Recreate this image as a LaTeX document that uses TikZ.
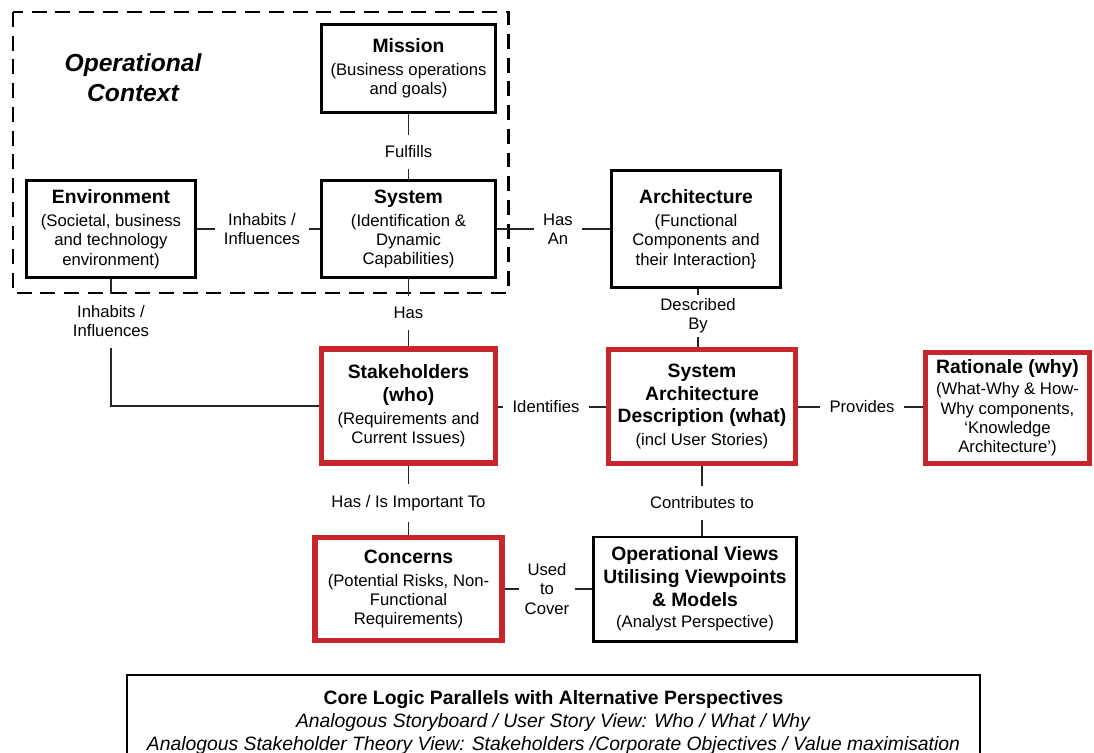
\documentclass[tikz,border=0pt]{standalone}
\usepackage{fontspec}
\setmainfont{Liberation Sans}

\definecolor{bordred}{RGB}{200,38,45}
\newcommand{\btitle}[1]{{\fontsize{11}{13}\selectfont\bfseries #1}}

\begin{document}
\begin{tikzpicture}[x=0.2mm, y=-0.2mm,
    box/.style={draw, line width=1.7pt, align=center, inner sep=0pt, font=\fontsize{9.5}{11}\selectfont},
    redbox/.style={box, draw=bordred, line width=3.2pt},
    lbl/.style={align=center, inner xsep=5pt, inner ysep=6pt, font=\fontsize{9.5}{11}\selectfont},
    link/.style={line width=0.6pt, black!85}]
    \useasboundingbox (0,0) rectangle (1094,753);

    % Operational context frame
    \draw[line width=1.7pt, dash pattern=on 8.5pt off 5pt] (13,12) rectangle (508,293);
    \node[align=center, font=\fontsize{14}{17}\selectfont\bfseries\itshape] (opctx) at (133,78) {Operational\\Context};

    % Boxes
    \node[box, minimum width=34.8mm, minimum height=17.6mm] (mission) at (408.5,68.5) {\btitle{Mission}\\[2pt](Business operations\\and goals)};
    \node[box, minimum width=34.8mm, minimum height=19.4mm] (system) at (408.5,229) {\btitle{System}\\[2pt](Identification \&\\Dynamic\\Capabilities)};
    \node[box, minimum width=33.8mm, minimum height=19.4mm] (env) at (111,229) {\btitle{Environment}\\[2pt](Societal, business\\and technology\\environment)};
    \node[box, minimum width=33.8mm, minimum height=23.4mm] (arch) at (696,229) {\btitle{Architecture}\\[2pt](Functional\\Components and\\their Interaction\}};
    \node[redbox, minimum width=34.8mm, minimum height=22.8mm] (stake) at (408.5,406) {\btitle{Stakeholders}\\[2pt]\btitle{(who)}\\[2pt](Requirements and\\Current Issues)};
    \node[redbox, minimum width=37.4mm, minimum height=22.8mm] (sad) at (702,406.5) {\btitle{System}\\[2pt]\btitle{Architecture}\\[2pt]\btitle{Description (what)}\\[2pt](incl User Stories)};
    \node[redbox, minimum width=32.8mm, minimum height=22.2mm] (rat) at (1007.5,408) {\btitle{Rationale (why)}\\[1pt](What-Why \& How-\\Why components,\\‘Knowledge\\Architecture’)};
    \node[redbox, minimum width=37.4mm, minimum height=20.6mm] (concerns) at (408.5,589) {\btitle{Concerns}\\[2pt](Potential Risks, Non-\\Functional\\Requirements)};
    \node[box, minimum width=40.6mm, minimum height=20.8mm] (opviews) at (695,589) {\btitle{Operational Views}\\[2pt]\btitle{Utilising Viewpoints}\\[2pt]\btitle{\& Models}\\[1pt](Analyst Perspective)};

    % Link labels
    \node[lbl] (fulfills) at (408.5,152) {Fulfills};
    \node[lbl] (has) at (408.5,313) {Has};
    \node[lbl] (inhA) at (262,229) {Inhabits /\\Influences};
    \node[lbl] (inhB) at (111,321) {Inhabits /\\Influences};
    \node[lbl] (hasan) at (558,229) {Has\\An};
    \node[lbl, inner ysep=2pt] (descby) at (698,316) {Described\\By};
    \node[lbl] (ident) at (546,407) {Identifies};
    \node[lbl] (prov) at (862,407) {Provides};
    \node[lbl] (hasimp) at (408.5,503) {Has / Is Important To};
    \node[lbl] (contrib) at (702,503) {Contributes to};
    \node[lbl, inner xsep=3pt] (usedto) at (547,589) {Used\\to\\Cover};

    % Links
    \draw[link] (mission) -- (fulfills) -- (system);
    \draw[link] (system) -- (has) -- (stake);
    \draw[link] (env) -- (inhA) -- (system);
    \draw[link] (env.south) -- (inhB.north);
    \draw[link] (inhB.south) |- (stake.west);
    \draw[link] (system) -- (hasan) -- (arch);
    \draw[link] (descby.north |- arch.south) -- (descby.north);
    \draw[link] (descby.south) -- (descby.south |- sad.north);
    \draw[link] (stake.east |- ident.west) -- (ident.west);
    \draw[link] (ident.east) -- (ident.east -| sad.west);
    \draw[link] (sad.east |- prov.west) -- (prov.west);
    \draw[link] (prov.east) -- (prov.east -| rat.west);
    \draw[link] (stake) -- (hasimp) -- (concerns);
    \draw[link] (sad.south) -- (contrib.north);
    \draw[link] (contrib.south) -- (contrib.south |- opviews.north);
    \draw[link] (concerns) -- (usedto) -- (opviews);

    % Parallels box
    \node[draw, line width=0.7pt, minimum width=170.6mm, minimum height=19mm, align=center, font=\fontsize{11}{13}\selectfont] (core) at (553.5,722.5)
        {\textbf{Core Logic Parallels with Alternative Perspectives}\\\textit{Analogous Storyboard / User Story View: Who / What / Why}\\\textit{Analogous Stakeholder Theory View: Stakeholders /Corporate Objectives / Value maximisation}};
\end{tikzpicture}
\end{document}
